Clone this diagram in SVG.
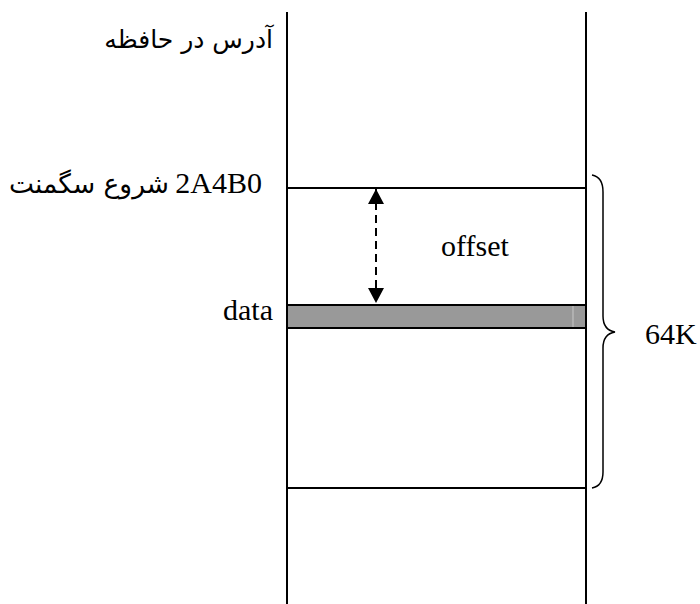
<svg xmlns="http://www.w3.org/2000/svg" width="700" height="604" viewBox="0 0 700 604">
<style>
.ln{stroke:#000;stroke-width:2;fill:none}
.lat{font-family:"Liberation Serif","Times New Roman",serif;font-size:30px;fill:#000}
.fa{font-family:"DejaVu Sans","Noto Sans",sans-serif;font-size:25px;fill:#000}
</style>
<defs>
<marker id="ah" viewBox="0 0 10 10" refX="10" refY="5" markerWidth="15" markerHeight="16" markerUnits="userSpaceOnUse" orient="auto-start-reverse" preserveAspectRatio="none">
<path d="M0,0 L10,5 L0,10 z" fill="#000"/>
</marker>
</defs>
<rect width="700" height="604" fill="#fff"/>
<g id="memory">
<line class="ln" x1="287" y1="12" x2="287" y2="604"/>
<line class="ln" x1="586" y1="12" x2="586" y2="604"/>
<line class="ln" x1="287" y1="188" x2="586" y2="188"/>
<line class="ln" x1="287" y1="488" x2="586" y2="488"/>
</g>
<g id="data-cell">
<rect x="287" y="305" width="299" height="23" fill="#999" stroke="#000" stroke-width="2"/>
<line x1="573" y1="306" x2="573" y2="327" stroke="#c8c8c8" stroke-width="1"/>
</g>
<g id="connectors">
<line x1="376" y1="189" x2="376" y2="303" stroke="#000" stroke-width="2" stroke-dasharray="8,5" marker-start="url(#ah)" marker-end="url(#ah)"/>
<path d="M592,175 Q603,177 603,192 L603,316 Q603,330 615,332 Q603,334 603,348 L603,472 Q603,486 592,488" stroke="#000" stroke-width="1.5" fill="none"/>
</g>
<g id="labels">
<text class="fa" x="273" y="48" text-anchor="end">آدرس در حافظه</text>
<text class="lat" x="262" y="193" text-anchor="end">2A4B0</text>
<text class="fa" x="169" y="193" text-anchor="end" style="font-size:26.5px">شروع سگمنت</text>
<text class="lat" x="475" y="256" text-anchor="middle">offset</text>
<text class="lat" x="273" y="320" text-anchor="end">data</text>
<text class="lat" x="645" y="344">64K</text>
</g>
</svg>
